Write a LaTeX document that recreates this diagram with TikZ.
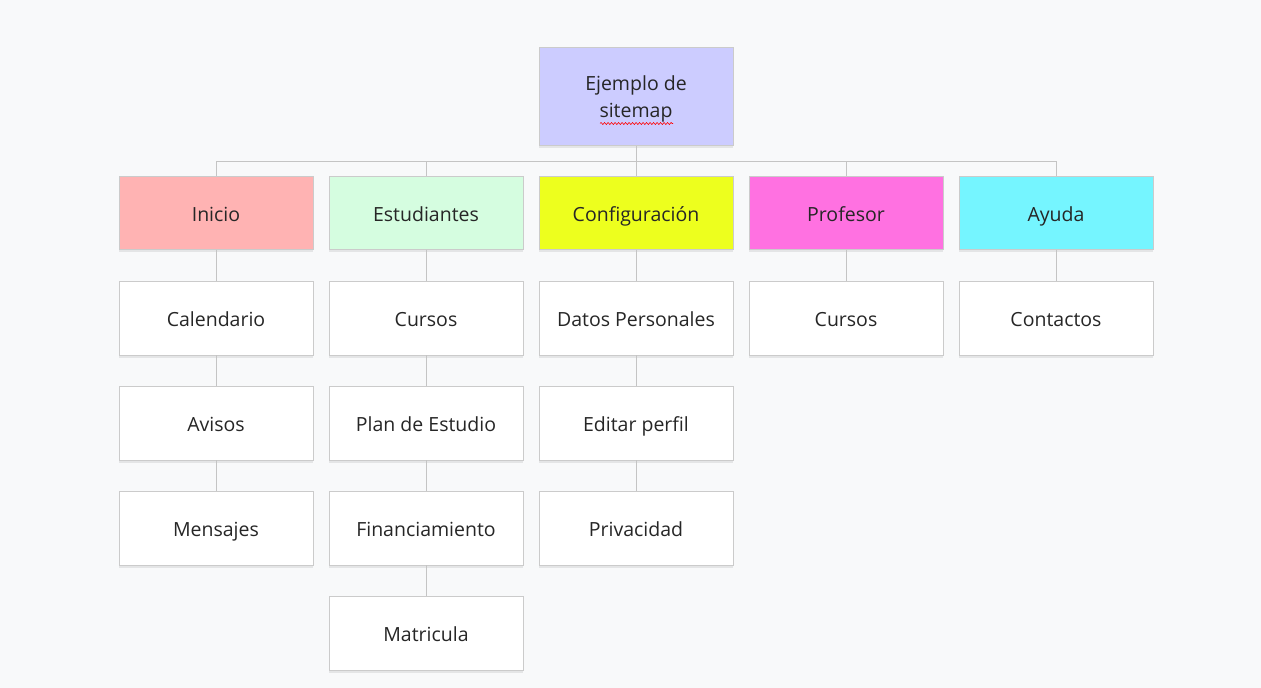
\documentclass[tikz,border=0pt]{standalone}
\usepackage{fontspec}
\setmainfont{Open Sans}
\usetikzlibrary{calc,shadows,decorations.pathmorphing}
\definecolor{fondo}{HTML}{F8F9FA}
\definecolor{borde}{HTML}{CBCBCB}
\definecolor{gris}{HTML}{C4C4C4}
\definecolor{texto}{HTML}{262626}
\definecolor{lila}{HTML}{CCCCFF}
\definecolor{rosa}{HTML}{FFB3B3}
\definecolor{menta}{HTML}{D5FDE0}
\definecolor{lima}{HTML}{EDFF1E}
\definecolor{fucsia}{HTML}{FF71E1}
\definecolor{celeste}{HTML}{75F5FF}
\begin{document}
\begin{tikzpicture}[x = 1pt, y = -1pt,
		bloque/.style = {draw = borde, line width = 0.8pt, fill = white, text = texto,
			minimum width = 194pt, minimum height = 74pt, align = center,
			font = \fontsize{19.5}{27}\selectfont,
			drop shadow = {shadow xshift = 0pt, shadow yshift = -2.5pt, opacity = 0.08, fill = black}},
		caja/.style = {bloque, text height = 18pt, text depth = 2pt},
		linea/.style = {draw = gris, line width = 0.8pt}]
		\fill[fondo] (0, 0) rectangle (1261, 688);
		% raiz
		\node[bloque, fill = lila, minimum height = 98pt, text height = 47pt, text depth = 5pt] (raiz) at (636, 96.5) {Ejemplo de\\sitemap};
		\draw[red, line width = 0.6pt, decorate, decoration = {snake, amplitude = 1pt, segment length = 3.5pt}] (600, 123.5) -- (673, 123.5);
		% secciones
		\foreach \n/\x/\c/\t in {ini/216/rosa/Inicio, est/426/menta/Estudiantes, con/636/lima/Configuración, pro/846/fucsia/Profesor, ayu/1056/celeste/Ayuda}
			\node[caja, fill = \c, minimum height = 73pt] (\n0) at (\x, 213) {\t};
		\coordinate (bus) at (636, 161);
		\draw[linea] (raiz.south) -- (bus);
		\draw[linea] (ini0.north |- bus) -- (ayu0.north |- bus);
		\foreach \n in {ini, est, con, pro, ayu}
			\draw[linea] (\n0.north |- bus) -- (\n0.north);
		% paginas
		\foreach \n/\i/\t [evaluate = \i as \prev using int(\i-1)] in {ini/1/Calendario, ini/2/Avisos, ini/3/Mensajes,
			est/1/Cursos, est/2/Plan de Estudio, est/3/Financiamiento, est/4/Matricula,
			con/1/Datos Personales, con/2/Editar perfil, con/3/Privacidad,
			pro/1/Cursos, ayu/1/Contactos}{
			\node[caja] (\n\i) at ($(\n0) + (0, 105*\i)$) {\t};
			\draw[linea] (\n\prev.south) -- (\n\i.north);
		}
	\end{tikzpicture}
\end{document}
